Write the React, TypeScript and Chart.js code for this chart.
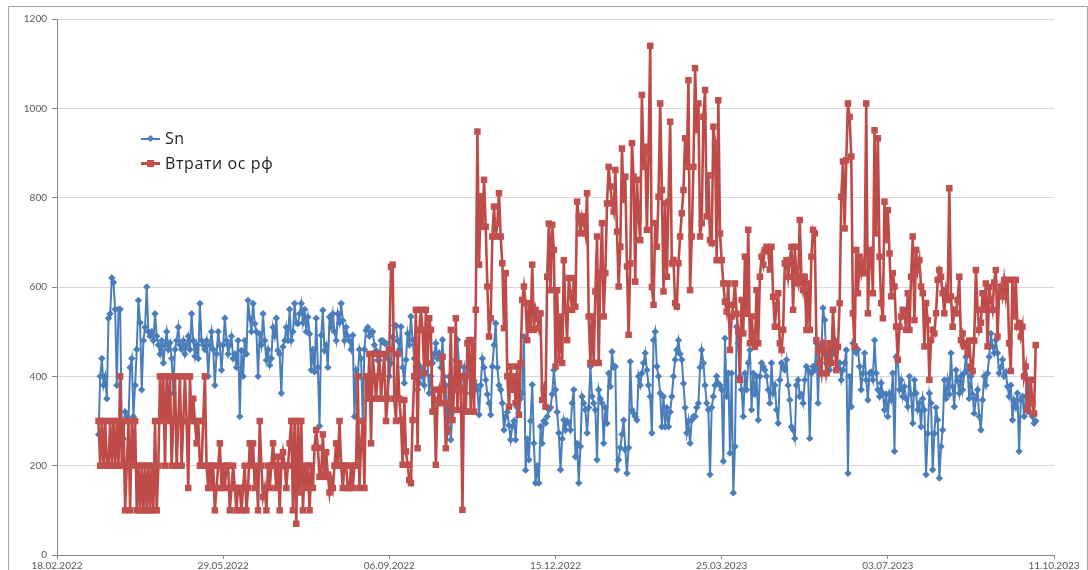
import React, { useEffect, useRef } from "react";
import { Chart, registerables } from "chart.js";

Chart.register(...registerables);

// Axis start and first observation day
const axisStartDate = "2022-02-18";
const firstDataDate = "2022-03-15";

const xTickLabels = [
  "18.02.2022",
  "29.05.2022",
  "06.09.2022",
  "15.12.2022",
  "25.03.2023",
  "03.07.2023",
  "11.10.2023",
];
const xTickStepDays = 100;

const yMin = 0;
const yMax = 1200;
const yStep = 200;

const seriesNames = ["Sn", "Втрати ос рф"];

// Sn (daily, from 15.03.2022)
const snValues = [
  270, 400, 440, 380, 400, 350, 530, 540, 620, 610,
  550, 380, 550, 550, 280, 260, 320, 310, 300, 420,
  440, 310, 380, 460, 570, 520, 370, 480, 510, 600,
  500, 490, 500, 480, 540, 490, 470, 450, 480, 430,
  470, 500, 460, 475, 440, 362, 460, 480, 510, 470,
  460, 480, 450, 470, 490, 460, 540, 480, 445, 470,
  440, 563, 480, 470, 460, 480, 400, 470, 500, 460,
  380, 450, 500, 470, 414, 470, 530, 480, 450, 470,
  490, 440, 450, 420, 480, 310, 458, 400, 480, 450,
  570, 530, 500, 563, 518, 500, 400, 495, 470, 540,
  480, 436, 460, 425, 440, 510, 490, 530, 458, 450,
  362, 466, 480, 510, 480, 550, 480, 500, 563, 520,
  518, 540, 563, 520, 550, 500, 533, 495, 414, 460,
  410, 530, 420, 289, 492, 548, 458, 470, 420, 533,
  510, 540, 500, 480, 540, 520, 563, 525, 480, 510,
  490, 480, 460, 492, 310, 414, 400, 460, 440, 302,
  460, 503, 510, 490, 500, 500, 470, 458, 436, 436,
  480, 480, 474, 474, 440, 400, 430, 488, 514, 514,
  480, 460, 511, 420, 385, 437, 496, 470, 534, 482,
  440, 422, 370, 385, 420, 399, 380, 467, 430, 362,
  400, 430, 450, 474, 440, 452, 420, 482, 400, 380,
  273, 399, 258, 320, 380, 437, 482, 422, 377, 400,
  420, 362, 400, 445, 400, 377, 390, 380, 370, 314,
  380, 440, 420, 392, 360, 340, 314, 422, 470, 519,
  420, 380, 370, 340, 280, 310, 320, 290, 258, 288,
  300, 258, 330, 317, 350, 362, 489, 190, 260, 213,
  300, 381, 250, 161, 200, 161, 288, 250, 300, 295,
  310, 325, 330, 360, 414, 370, 320, 273, 191, 260,
  302, 280, 300, 295, 280, 340, 370, 220, 250, 161,
  243, 355, 340, 325, 273, 330, 422, 355, 340, 325,
  213, 370, 350, 340, 250, 330, 295, 407, 377, 455,
  420, 422, 191, 213, 240, 270, 302, 235, 183, 240,
  433, 325, 317, 310, 302, 400, 380, 407, 430, 452,
  414, 380, 355, 273, 481, 500, 422, 400, 362, 287,
  355, 287, 330, 287, 320, 355, 400, 437, 459, 481,
  450, 437, 384, 330, 273, 300, 250, 302, 310, 310,
  330, 340, 420, 459, 430, 380, 340, 325, 180, 330,
  355, 380, 400, 384, 380, 370, 210, 485, 355, 407,
  228, 407, 139, 243, 511, 474, 400, 370, 310, 407,
  370, 430, 459, 325, 407, 360, 400, 302, 400, 430,
  422, 414, 400, 370, 340, 430, 362, 380, 325, 295,
  392, 430, 422, 414, 437, 380, 347, 287, 280, 261,
  380, 392, 355, 360, 340, 392, 422, 414, 261, 407,
  422, 414, 474, 340, 466, 459, 553, 526, 430, 459,
  414, 430, 452, 481, 466, 420, 430, 392, 414, 430,
  459, 183, 400, 332, 474, 460, 452, 460, 422, 370,
  407, 452, 392, 347, 407, 410, 392, 481, 407, 370,
  355, 385, 362, 325, 360, 310, 362, 347, 407, 232,
  444, 437, 370, 392, 355, 377, 350, 332, 400, 360,
  295, 392, 362, 325, 340, 287, 350, 325, 180, 272,
  362, 340, 191, 272, 330, 302, 172, 243, 280, 392,
  350, 392, 360, 452, 377, 332, 414, 390, 362, 400,
  370, 407, 444, 414, 350, 400, 360, 317, 350, 370,
  310, 280, 347, 400, 380, 407, 444, 496, 467, 452,
  481, 452, 407, 420, 437, 400, 410, 377, 355, 380,
  302, 347, 330, 362, 232, 347, 355, 310, 355, 392,
  362, 317, 310, 295, 300,
];

// Втрати ос рф (daily, from 15.03.2022)
const lossValues = [
  300, 200, 300, 200, 300, 200, 200, 300, 200, 300,
  200, 300, 200, 400, 200, 300, 100, 200, 300, 100,
  300, 200, 300, 100, 200, 100, 200, 100, 200, 100,
  200, 100, 200, 100, 300, 100, 200, 400, 300, 400,
  200, 400, 300, 400, 200, 300, 400, 200, 300, 400,
  200, 300, 400, 300, 150, 400, 300, 350, 300, 250,
  300, 200, 200, 300, 400, 200, 150, 200, 150, 200,
  100, 150, 200, 250, 150, 200, 150, 200, 200, 100,
  150, 200, 150, 100, 150, 150, 100, 150, 200, 100,
  150, 250, 200, 250, 150, 200, 100, 300, 200, 130,
  150, 100, 200, 150, 200, 250, 200, 150, 220, 100,
  200, 230, 200, 150, 200, 250, 300, 100, 300, 70,
  300, 140, 300, 100, 200, 150, 200, 100, 200, 150,
  240, 280, 240, 175, 180, 270, 175, 230, 180, 140,
  170, 150, 200, 250, 200, 300, 200, 150, 200, 200,
  150, 150, 200, 150, 200, 200, 400, 150, 250, 300,
  150, 400, 350, 450, 250, 450, 400, 350, 400, 450,
  350, 400, 450, 300, 350, 460, 645, 650, 350, 300,
  450, 350, 302, 202, 347, 232, 202, 168, 161, 302,
  400, 549, 239, 504, 549, 504, 407, 549, 429, 530,
  504, 321, 370, 202, 347, 370, 340, 444, 370, 239,
  280, 340, 504, 302, 370, 530, 325, 429, 370, 101,
  400, 321, 474, 481, 321, 481, 321, 549, 948, 650,
  803, 735, 840, 735, 601, 489, 530, 713, 780, 713,
  742, 810, 713, 653, 508, 631, 400, 332, 422, 370,
  400, 340, 422, 314, 429, 571, 601, 564, 481, 564,
  504, 650, 504, 549, 530, 508, 541, 347, 370, 332,
  623, 742, 593, 739, 683, 422, 593, 437, 534, 430,
  660, 549, 481, 620, 586, 549, 620, 556, 791, 758,
  720, 758, 743, 720, 810, 534, 430, 534, 430, 590,
  713, 430, 631, 743, 534, 631, 787, 869, 825, 787,
  769, 862, 724, 601, 690, 910, 795, 847, 646, 493,
  653, 922, 847, 612, 840, 758, 705, 1030, 869, 914,
  728, 899, 1140, 600, 560, 743, 690, 802, 1011, 817,
  590, 787, 623, 791, 970, 653, 660, 564, 556, 653,
  713, 765, 817, 933, 869, 1063, 593, 713, 869, 1090,
  951, 1011, 713, 743, 981, 1041, 758, 850, 705, 698,
  959, 922, 660, 1018, 720, 660, 608, 567, 545, 608,
  459, 534, 560, 608, 540, 500, 392, 571, 496, 668,
  540, 728, 474, 534, 489, 466, 593, 474, 623, 668,
  650, 683, 690, 680, 639, 690, 578, 511, 560, 586,
  474, 459, 504, 653, 660, 623, 660, 690, 549, 690,
  623, 608, 750, 623, 593, 623, 504, 608, 504, 668,
  728, 720, 481, 459, 430, 407, 474, 459, 407, 430,
  474, 430, 549, 474, 414, 466, 564, 802, 881, 731,
  884, 1011, 981, 892, 541, 467, 683, 586, 668, 631,
  653, 631, 1011, 541, 675, 683, 586, 951, 720, 933,
  668, 564, 530, 791, 705, 772, 675, 579, 631, 601,
  511, 437, 511, 534, 549, 541, 504, 586, 504, 623,
  713, 526, 683, 638, 660, 601, 586, 467, 564, 526,
  392, 481, 504, 496, 541, 616, 638, 623, 586, 541,
  593, 571, 821, 579, 511, 549, 541, 571, 623, 481,
  496, 467, 474, 452, 480, 422, 412, 480, 638, 549,
  504, 520, 586, 549, 608, 467, 600, 571, 549, 610,
  638, 489, 586, 601, 579, 616, 579, 616, 474, 412,
  616, 534, 616, 511, 519, 489, 511, 400, 422, 325,
  340, 392, 340, 317, 470,
];

const DAY_MS = 86400000;
const dayOffset = Math.round(
  (Date.parse(firstDataDate) - Date.parse(axisStartDate)) / DAY_MS
);

const toPoints = (vals: number[]) =>
  vals.map((v, i) => ({ x: dayOffset + i, y: v }));

const BLUE = "#4A7EBB";
const RED = "#BE4B48";
const TICK_COLOR = "#595959";
const AXIS_COLOR = "#888888";
const GRID_COLOR = "#D9D9D9";

export default function App() {
  const canvasRef = useRef<HTMLCanvasElement>(null);

  useEffect(() => {
    const canvas = canvasRef.current;
    if (!canvas) return;
    const tickFont = { family: "Lato, 'Liberation Sans', sans-serif", size: 10 };
    const xMax = (xTickLabels.length - 1) * xTickStepDays;
    const chart = new Chart(canvas, {
      type: "line",
      data: {
        datasets: [
          {
            label: seriesNames[0],
            data: toPoints(snValues),
            borderColor: BLUE,
            backgroundColor: BLUE,
            borderWidth: 2,
            pointStyle: "rectRot",
            pointRadius: 3.7,
            pointBorderWidth: 0,
            pointBackgroundColor: BLUE,
            tension: 0,
            order: 1,
          },
          {
            label: seriesNames[1],
            data: toPoints(lossValues),
            borderColor: RED,
            backgroundColor: "#C0504D",
            borderWidth: 2.6,
            pointStyle: "rect",
            pointRadius: 4.6,
            pointBorderWidth: 0,
            pointBackgroundColor: "#C0504D",
            tension: 0,
            order: 0,
          },
        ],
      },
      options: {
        animation: false,
        responsive: false,
        maintainAspectRatio: false,
        layout: { padding: { left: 0, right: 34, top: 19, bottom: 0 } },
        plugins: {
          legend: { display: false },
          tooltip: { enabled: false },
        },
        scales: {
          x: {
            type: "linear",
            min: 0,
            max: xMax,
            afterBuildTicks: (scale: any) => {
              scale.ticks = xTickLabels.map((_, i) => ({ value: i * xTickStepDays }));
            },
            afterFit: (scale: any) => {
              scale.height = 15;
              scale.paddingLeft = 0;
              scale.paddingRight = 0;
            },
            ticks: {
              autoSkip: false,
              maxRotation: 0,
              minRotation: 0,
              padding: 1,
              color: TICK_COLOR,
              font: tickFont,
              callback: (v: any) => xTickLabels[Math.round(Number(v) / xTickStepDays)] ?? "",
            },
            grid: {
              drawOnChartArea: false,
              drawTicks: true,
              tickLength: 4,
              color: AXIS_COLOR,
            },
            border: { display: true, color: AXIS_COLOR, width: 1 },
          },
          y: {
            min: yMin,
            max: yMax,
            afterFit: (scale: any) => {
              scale.width = 57;
              scale.paddingTop = 0;
              scale.paddingBottom = 0;
            },
            ticks: {
              stepSize: yStep,
              padding: 5,
              color: TICK_COLOR,
              font: tickFont,
              callback: (v: any) => String(v),
            },
            grid: {
              color: GRID_COLOR,
              tickColor: AXIS_COLOR,
              tickLength: 5,
              lineWidth: 1,
            },
            border: { display: true, color: AXIS_COLOR, width: 1 },
          },
        },
      },
    } as any);
    return () => chart.destroy();
  }, []);

  const legendText: React.CSSProperties = {
    position: "absolute",
    left: 165,
    fontFamily: "'Open Sans', sans-serif",
    fontSize: 16,
    letterSpacing: 0.6,
    color: "#1F1F1F",
    lineHeight: "20px",
    whiteSpace: "nowrap",
  };

  return (
    <div
      style={{
        position: "absolute",
        left: 0,
        top: 0,
        width: 1088,
        height: 570,
        overflow: "hidden",
        background: "#ffffff",
      }}
    >
      <canvas
        ref={canvasRef}
        width={1088}
        height={570}
        style={{ display: "block", width: 1088, height: 570 }}
      />
      <div
        style={{
          position: "absolute",
          left: 8,
          top: 6,
          width: 1078,
          height: 600,
          border: "1px solid #A6A6A6",
          pointerEvents: "none",
        }}
      />
      {/* Legend: Sn */}
      <div style={{ position: "absolute", left: 141, top: 138, width: 19, height: 2, background: BLUE }} />
      <div
        style={{
          position: "absolute",
          left: 148,
          top: 136,
          width: 5,
          height: 5,
          background: BLUE,
          transform: "rotate(45deg)",
        }}
      />
      <div style={{ ...legendText, top: 128 }}>{seriesNames[0]}</div>
      {/* Legend: Втрати ос рф */}
      <div style={{ position: "absolute", left: 141, top: 162, width: 19, height: 3, background: RED }} />
      <div style={{ position: "absolute", left: 147, top: 160, width: 7, height: 7, background: "#C0504D" }} />
      <div style={{ ...legendText, top: 153 }}>{seriesNames[1]}</div>
    </div>
  );
}
